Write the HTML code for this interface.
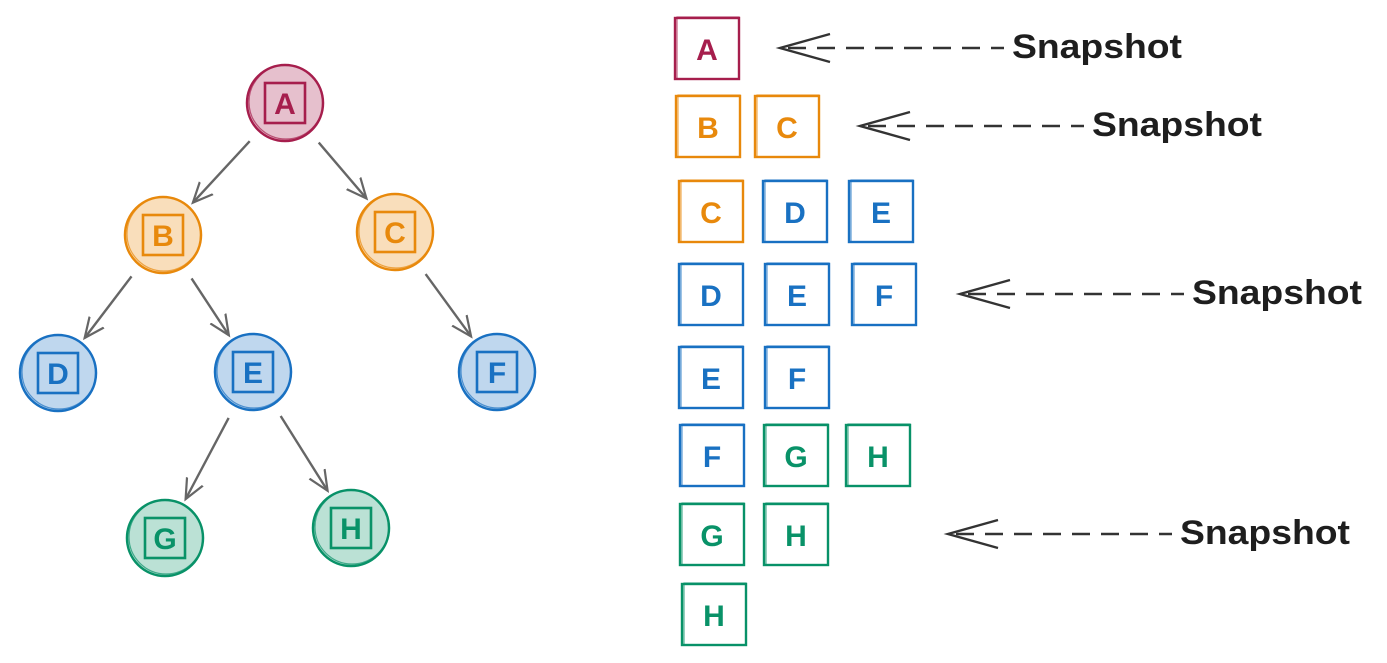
<!DOCTYPE html>
<html><head><meta charset="utf-8"><style>
html,body{margin:0;padding:0;background:#fff}
svg{display:block}
text{font-family:"Liberation Sans",sans-serif}
</style></head><body>
<svg id="s" width="1387" height="663" viewBox="0 0 1387 663">
<defs>
<marker id="ah" markerWidth="24" markerHeight="24" refX="20" refY="12" orient="auto" markerUnits="userSpaceOnUse">
<path d="M0,3 L20,12 L0,21" fill="none" stroke="#666" stroke-width="2.2"/>
</marker>
</defs>
<g id="tree"></g>
<g id="queue"></g>
</svg>
<script>
const NS='http://www.w3.org/2000/svg';
const colors={A:'#a61e4d',B:'#e8890c',C:'#e8890c',D:'#1971c2',E:'#1971c2',F:'#1971c2',G:'#099268',H:'#099268'};
const nodeLabels=['A','B','C','D','E','F','G','H'];
const nodeX=[285,163,395,58,253,497,165,351];
const nodeY=[103,235,232,373,372,372,538,528];
const edges=[[0,1],[0,2],[1,3],[1,4],[2,5],[4,6],[4,7]];
const rows=[['A'],['B','C'],['C','D','E'],['D','E','F'],['E','F'],['F','G','H'],['G','H'],['H']];
const rowY=[18,96,181,264,347,425,504,584];
const rowX=[[675],[676,755],[679,763,849],[679,765,852],[679,765],[680,764,846],[680,764],[682]];
const snapRows=[0,1,3,6];
const snapHeadX=[780,860,960,948];
const snapTextX=[1012,1092,1192,1180];
function mk(t,a,p){const e=document.createElementNS(NS,t);for(const k in a)e.setAttribute(k,a[k]);p.appendChild(e);return e;}
const tree=document.getElementById('tree'),queue=document.getElementById('queue');
edges.forEach(([a,b])=>{
 const dx=nodeX[b]-nodeX[a],dy=nodeY[b]-nodeY[a],L=Math.hypot(dx,dy),ux=dx/L,uy=dy/L;
 const l=mk('line',{x1:nodeX[a]+ux*52,y1:nodeY[a]+uy*52,x2:nodeX[b]-ux*44,y2:nodeY[b]-uy*44,stroke:'#666','stroke-width':2.4,'marker-end':'url(#ah)'},tree);
 
 
});
nodeLabels.forEach((n,i)=>{
 const g=mk('g',{},tree);
 
 
 const c=colors[n],x=nodeX[i],y=nodeY[i];
 mk('circle',{cx:x,cy:y,r:38,fill:c,'fill-opacity':0.28},g);
 mk('circle',{cx:x,cy:y,r:38,fill:'none',stroke:c,'stroke-width':2.5},g);
 mk('circle',{cx:x+1,cy:y-1,r:37,fill:'none',stroke:c,'stroke-width':1.2,'stroke-opacity':0.7},g);
 mk('rect',{x:x-20,y:y-20,width:40,height:40,fill:'none',stroke:c,'stroke-width':2.6},g);
 const t=mk('text',{x:x,y:y+11,'text-anchor':'middle','font-size':30,fill:c,'font-weight':'bold'},g);t.textContent=n;
});
rows.forEach((r,ri)=>{
 r.forEach((n,j)=>{
  const g=mk('g',{},queue);
  
  
  const c=colors[n],x=rowX[ri][j],y=rowY[ri];
  mk('rect',{x:x,y:y,width:64,height:61,fill:'none',stroke:c,'stroke-width':2.4},g);
  mk('rect',{x:x+2,y:y-1,width:62,height:62,fill:'none',stroke:c,'stroke-width':1.2,'stroke-opacity':0.7},g);
  const t=mk('text',{x:x+32,y:y+42,'text-anchor':'middle','font-size':30,fill:c,'font-weight':'bold'},g);t.textContent=n;
 });
});
snapRows.forEach((ri,k)=>{
 const y=rowY[ri]+30,hx=snapHeadX[k],tx=snapTextX[k];
 const g=mk('g',{},queue);
 
 
 mk('path',{d:`M${hx+50},${y-14} L${hx},${y} L${hx+50},${y+14}`,fill:'none',stroke:'#333','stroke-width':2.4},g);
 mk('line',{x1:hx+8,y1:y,x2:tx-8,y2:y,stroke:'#333','stroke-width':2.4,'stroke-dasharray':'18 11'},g);
 const t=mk('text',{x:tx,y:y+10,'font-size':34,fill:'#1e1e1e','font-weight':'bold',textLength:170,lengthAdjust:'spacingAndGlyphs'},g);t.textContent='Snapshot';
});
</script>
</body></html>
